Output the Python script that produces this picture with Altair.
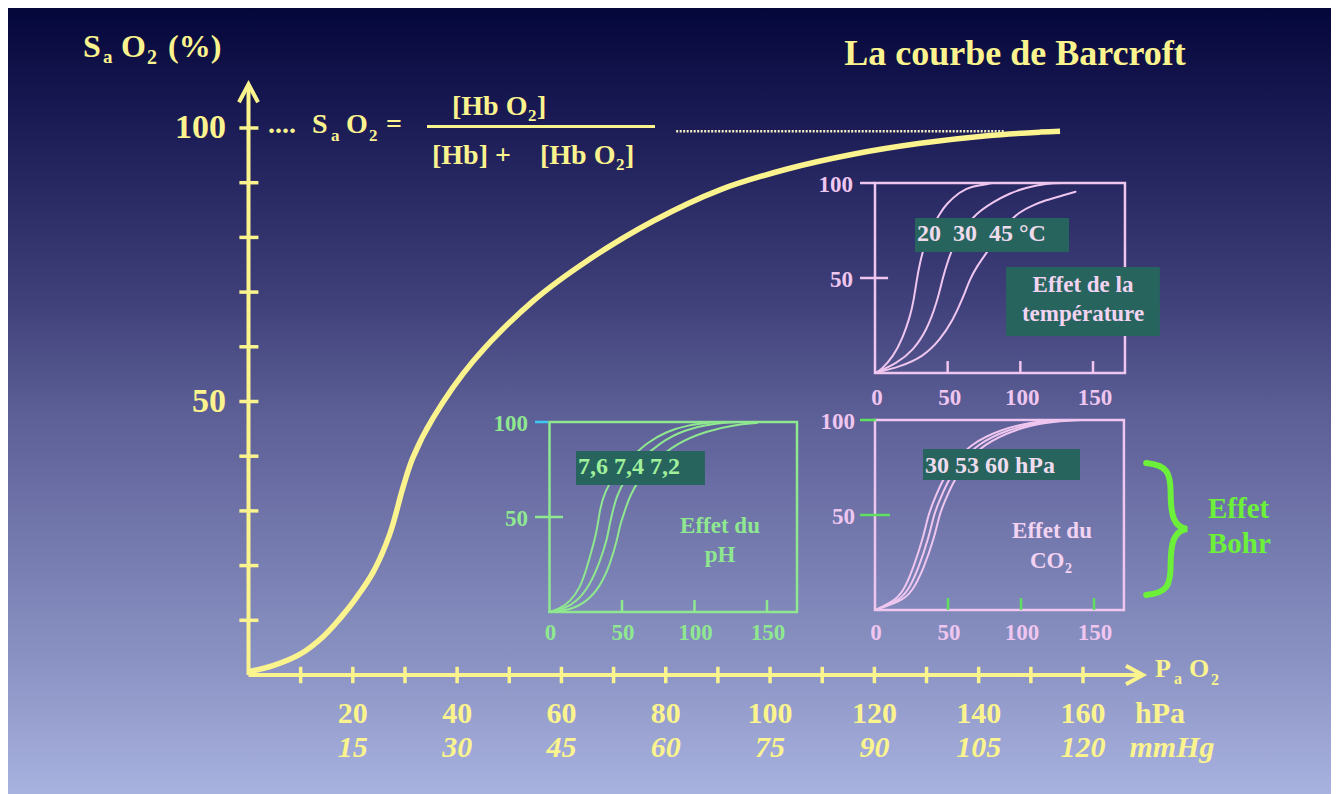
import altair as alt
import pandas as pd

# ---------------- data ----------------
# main oxygen dissociation curve: PaO2 (hPa) -> SaO2 (%)
main_x = [0, 4.7, 9.9, 14.3, 17.6, 20.8, 23.9, 27.1, 29.6, 31.5, 35.4, 43.1, 54.6,
          64.9, 77.6, 90.4, 103.3, 115.9, 128.8, 141.6, 151.8, 155.6]
main_y = [0.6, 1.7, 3.8, 7.0, 10.4, 14.3, 18.8, 25.8, 34.2, 39.7, 47.0, 57.4, 68.4,
          75.7, 83.0, 88.7, 92.5, 95.2, 97.2, 98.6, 99.25, 99.4]

x_ticks = [10, 20, 30, 40, 50, 60, 70, 80, 90, 100, 110, 120, 130, 140, 150, 160]
y_ticks = [10, 20, 30, 40, 50, 60, 70, 80, 90, 100]
hpa_labels = [20, 40, 60, 80, 100, 120, 140, 160]
mmhg_labels = [15, 30, 45, 60, 75, 90, 105, 120]
main_y_labels = [50, 100]

# inset: temperature (20, 30, 45 °C)
temp20_x = [0, 4, 12.6, 19.4, 24, 26.3, 28.7, 30.8, 34.4, 37.7, 44.7, 49, 58.5, 65, 81]
temp20_y = [0, 1.5, 8.6, 19, 29.6, 36.7, 49, 57.7, 68.3, 75, 84, 89, 95.4, 98, 100]
temp30_x = [0, 14.9, 26.4, 35.6, 42.5, 46.8, 50.4, 53.7, 60.8, 69.6, 81.4, 92.5, 104.4, 117.6, 131]
temp30_y = [0, 5, 12, 22.6, 36.7, 50.7, 59.5, 66.5, 76, 84, 90, 94.6, 97.7, 99.8, 100]
temp45_x = [0, 17.2, 33.2, 44.7, 53.7, 60.8, 65, 70, 76.5, 86, 97, 109, 117.6, 127.3, 138]
temp45_y = [0, 3.3, 8.6, 17.4, 27.9, 40, 49, 56, 63, 73.5, 84, 88.4, 91, 93, 95.4]

# inset: pH (7.6, 7.4, 7.2)
ph76_x = [0, 7.2, 14.1, 21, 25.7, 30.2, 33, 34.8, 38.3, 44, 53.2, 67.6, 80.8, 94.6, 115]
ph76_y = [0, 1.9, 5.4, 12.5, 23, 35.3, 44, 54.6, 63.3, 71.2, 79, 89.5, 94.9, 98.4, 100]
ph74_x = [0, 9.5, 18.8, 27.9, 34.8, 40, 41.3, 43, 46.3, 53.2, 62.4, 76, 92.3, 113, 131]
ph74_y = [0, 1.6, 5.4, 14.2, 26.5, 39, 45.8, 51, 61.6, 71.2, 80, 89, 95.8, 99.3, 100]
ph72_x = [0, 14.1, 25.7, 34.8, 41.7, 47, 48.6, 51, 55.5, 62.4, 71.6, 88, 108.4, 126.8, 143]
ph72_y = [0, 1, 5.4, 13.3, 24.7, 39, 45.8, 51, 61.6, 70.4, 79, 89, 95.3, 98.4, 99.5]

# inset: CO2 (30, 53, 60 hPa)
co2a_x = [0, 12.5, 19.4, 26.2, 33, 36.5, 39, 46.6, 56, 65, 85.6, 108, 126.7]
co2b_x = [0, 15, 22.5, 29.8, 36.8, 40.3, 42.8, 50.6, 60.3, 69.6, 90.5, 113, 134]
co2c_x = [0, 17.5, 25.6, 33.4, 40.6, 44.1, 46.6, 54.6, 64.6, 74.2, 95.4, 118, 142]
co2_y = [0, 4.4, 9.6, 22, 38, 50, 55, 69.5, 79, 87, 95, 99, 100]

inset_x_labels = [0, 50, 100, 150]
inset_x_ticks = [50, 100, 150]
inset_y_labels = [50, 100]

# ---------------- layout / style ----------------
W, H = 1323, 786
OFF = 8
FONT = "Liberation Serif"

YEL = "#fbf48e"
DOTS = "#f2f0c4"
PINK = "#efc6ef"
PINK_TXT = "#f2d4f2"
GREEN = "#8fe88f"
GREEN_TXT = "#a0f09c"
TICK_GREEN = "#5fe05f"
CYAN = "#3cc8f0"
BOHR = "#6cf03a"
BOX = "#27645e"


def sc(dom, rng):
    return alt.Scale(domain=dom, range=rng, nice=False, zero=False)


MAIN = (sc([0, 160], [240.5, 1075]), sc([0, 100], [667, 120]))
TEMP = (sc([0, 150], [867, 1085]), sc([0, 100], [365, 175]))
PH = (sc([0, 150], [541.5, 759]), sc([0, 100], [604, 414]))
CO2 = (sc([0, 150], [867, 1086]), sc([0, 100], [602, 412]))


def X(f, s):
    return alt.X(f"{f}:Q", scale=s[0], axis=None)


def X2(f):
    return alt.X2(f"{f}:Q")


def Y(f, s):
    return alt.Y(f"{f}:Q", scale=s[1], axis=None)


def Y2(f):
    return alt.Y2(f"{f}:Q")


def curve(xs, ys, s, color, width, interp="basis", cap="round"):
    return alt.Chart(pd.DataFrame({"x": xs, "y": ys})).mark_line(
        color=color, strokeWidth=width, interpolate=interp, strokeCap=cap
    ).encode(x=X("x", s), y=Y("y", s))


def hrule(x0, x1, y, s, color, width, dash=None):
    kw = dict(color=color, strokeWidth=width)
    if dash:
        kw["strokeDash"] = dash
    return alt.Chart(pd.DataFrame({"x": [x0], "x2": [x1], "y": [y]})).mark_rule(**kw).encode(
        x=X("x", s), x2=X2("x2"), y=Y("y", s))


def vticks(vals, y0, y1, s, color, width):
    d = pd.DataFrame({"x": vals, "y": [y0] * len(vals), "y2": [y1] * len(vals)})
    return alt.Chart(d).mark_rule(color=color, strokeWidth=width).encode(
        x=X("x", s), y=Y("y", s), y2=Y2("y2"))


def hticks(vals, x0, x1, s, color, width):
    d = pd.DataFrame({"y": vals, "x": [x0] * len(vals), "x2": [x1] * len(vals)})
    return alt.Chart(d).mark_rule(color=color, strokeWidth=width).encode(
        y=Y("y", s), x=X("x", s), x2=X2("x2"))


def box(x0, x1, y0, y1, s, fill=None, stroke=None, width=2.5):
    kw = {}
    if fill:
        kw["fill"] = fill
    else:
        kw["fillOpacity"] = 0
    if stroke:
        kw["stroke"] = stroke
        kw["strokeWidth"] = width
    else:
        kw["strokeWidth"] = 0
    d = pd.DataFrame({"x": [x0], "x2": [x1], "y": [y0], "y2": [y1]})
    return alt.Chart(d).mark_rect(**kw).encode(
        x=X("x", s), x2=X2("x2"), y=Y("y", s), y2=Y2("y2"))


def xlabels(vals, texts, s, base, size, color, italic=False, dx=0):
    d = pd.DataFrame({"x": vals, "t": texts})
    return alt.Chart(d).mark_text(
        align="center", baseline="alphabetic", font=FONT, fontSize=size, fontWeight="bold",
        fontStyle="italic" if italic else "normal", color=color, dx=dx
    ).encode(x=X("x", s), y=alt.value(base - OFF), text="t:N")


def ylabels(vals, s, right, size, color, dy):
    d = pd.DataFrame({"y": vals, "t": [str(v) for v in vals]})
    return alt.Chart(d).mark_text(
        align="right", baseline="alphabetic", font=FONT, fontSize=size, fontWeight="bold",
        color=color, dy=dy
    ).encode(y=Y("y", s), x=alt.value(right - OFF), text="t:N")


def ptext(s, x, y, size, color, align="left", italic=False):
    return alt.Chart(pd.DataFrame({"t": [s]})).mark_text(
        align=align, baseline="alphabetic", font=FONT, fontSize=size, fontWeight="bold",
        fontStyle="italic" if italic else "normal", color=color
    ).encode(x=alt.value(x - OFF), y=alt.value(y - OFF), text="t:N")


one = pd.DataFrame({"k": [0]})

# ---------------- background ----------------
grad = alt.LinearGradient(
    gradient="linear", x1=0, x2=0, y1=0, y2=1,
    stops=[
        alt.GradientStop(offset=0.0, color="#04073a"),
        alt.GradientStop(offset=0.16, color="#1d1d58"),
        alt.GradientStop(offset=0.37, color="#3f4079"),
        alt.GradientStop(offset=0.52, color="#5d5f97"),
        alt.GradientStop(offset=0.83, color="#8a92c3"),
        alt.GradientStop(offset=1.0, color="#a8b2df"),
    ],
)
bg = alt.Chart(one).mark_rect(fill=grad, strokeWidth=0).encode(
    x=alt.value(0), x2=alt.value(W), y=alt.value(0), y2=alt.value(H))

# ---------------- main chart ----------------
arrow_x = alt.Chart(pd.DataFrame({"x": [171.5], "y": [0]})).mark_point(
    shape="M -1 -0.55 L 0 0 L -1 0.55", filled=False, color=YEL, strokeWidth=4,
    opacity=1, size=1156).encode(x=X("x", MAIN), y=Y("y", MAIN))
arrow_y = alt.Chart(pd.DataFrame({"x": [0], "y": [108]})).mark_point(
    shape="M -0.53 1 L 0 0 L 0.53 1", filled=False, color=YEL, strokeWidth=4,
    opacity=1, size=1296).encode(x=X("x", MAIN), y=Y("y", MAIN))
y_axis = alt.Chart(pd.DataFrame({"x": [0], "y": [0], "y2": [108]})).mark_rule(
    color=YEL, strokeWidth=4).encode(x=X("x", MAIN), y=Y("y", MAIN), y2=Y2("y2"))

main = alt.layer(
    hrule(82, 145, 99.4, MAIN, DOTS, 2.5, dash=[2, 1.5]),
    hrule(0, 171.5, 0, MAIN, YEL, 4),
    y_axis,
    vticks(x_ticks, -1.5, 1.5, MAIN, YEL, 3.5),
    hticks(y_ticks, -1.75, 1.9, MAIN, YEL, 3.5),
    arrow_x,
    arrow_y,
    curve(main_x, main_y, MAIN, YEL, 5.5, interp="catmull-rom", cap="butt"),
    ylabels(main_y_labels, MAIN, 226, 34, YEL, 10),
    xlabels(hpa_labels, [str(v) for v in hpa_labels], MAIN, 723, 30, YEL),
    xlabels(hpa_labels, [str(v) for v in mmhg_labels], MAIN, 757, 30, YEL, italic=True),
)

# ---------------- temperature inset ----------------
temp = alt.layer(
    box(0, 172, 0, 100, TEMP, stroke=PINK),
    hrule(-10.3, 0, 100, TEMP, PINK, 2.5),
    hticks([50], -10.3, 9, TEMP, PINK, 2.5),
    vticks(inset_x_ticks, 0, 6.3, TEMP, PINK, 2.5),
    curve(temp20_x, temp20_y, TEMP, PINK, 2),
    curve(temp30_x, temp30_y, TEMP, PINK, 2),
    curve(temp45_x, temp45_y, TEMP, PINK, 2),
    box(27.5, 133.5, 63.7, 81.6, TEMP, fill=BOX),
    box(90.2, 196, 19.5, 55.8, TEMP, fill=BOX),
    xlabels(inset_x_labels, [str(v) for v in inset_x_labels], TEMP, 405, 23, PINK, dx=2),
    ylabels(inset_y_labels, TEMP, 853, 23, PINK, 9),
)

# ---------------- pH inset ----------------
ph = alt.layer(
    box(0, 170.7, 0, 100, PH, stroke=GREEN),
    hrule(-10, -1, 100, PH, CYAN, 2.5),
    hticks([50], -10, 9.3, PH, GREEN, 2.5),
    vticks(inset_x_ticks, 0, 6.3, PH, GREEN, 2.5),
    curve(ph76_x, ph76_y, PH, GREEN, 2),
    curve(ph74_x, ph74_y, PH, GREEN, 2),
    curve(ph72_x, ph72_y, PH, GREEN, 2),
    box(18.3, 107.2, 66.8, 84.7, PH, fill=BOX),
    xlabels(inset_x_labels, [str(v) for v in inset_x_labels], PH, 640, 23, GREEN, dx=1),
    ylabels(inset_y_labels, PH, 528, 23, GREEN, 9),
)

# ---------------- CO2 inset ----------------
co2 = alt.layer(
    box(0, 170.5, 0, 100, CO2, stroke=PINK),
    hrule(-10.3, 0.7, 100, CO2, TICK_GREEN, 2.5),
    hticks([50], -10.3, 10.3, CO2, TICK_GREEN, 2.5),
    vticks(inset_x_ticks, 0, 6.3, CO2, TICK_GREEN, 2.5),
    curve(co2a_x, co2_y, CO2, PINK, 2),
    curve(co2b_x, co2_y, CO2, PINK, 2),
    curve(co2c_x, co2_y, CO2, PINK, 2),
    box(32.9, 140.4, 68.4, 84.7, CO2, fill=BOX),
    xlabels(inset_x_labels, [str(v) for v in inset_x_labels], CO2, 640, 23, PINK, dx=1),
    ylabels(inset_y_labels, CO2, 855, 23, PINK, 9),
)

# ---------------- annotations ----------------
BRACE = ("M -0.30 -1 C 0.02 -0.97 0.07 -0.85 0.07 -0.55 "
         "C 0.07 -0.20 0.12 -0.03 0.32 0 "
         "C 0.12 0.03 0.07 0.20 0.07 0.55 "
         "C 0.07 0.85 0.02 0.97 -0.30 1")
brace = alt.Chart(one).mark_point(
    shape=BRACE, filled=False, color=BOHR, opacity=1, size=17424, strokeWidth=6,
    strokeCap="round", strokeJoin="miter"
).encode(x=alt.value(1166 - OFF), y=alt.value(529 - OFF))

frac_bar = alt.Chart(one).mark_rule(color=YEL, strokeWidth=3).encode(
    x=alt.value(427 - OFF), x2=alt.value(655 - OFF), y=alt.value(126.5 - OFF))

NB = "\u00a0"
annots = [
    # axis title
    ptext("S", 83, 57, 32, YEL),
    ptext("a", 103, 63, 19, YEL),
    ptext("O", 121, 57, 32, YEL),
    ptext("2", 147, 64, 20, YEL),
    ptext("(%)", 168, 57, 32, YEL),
    # title
    ptext("La courbe de Barcroft", 1015, 65, 36, YEL, align="center"),
    # formula
    ptext("....", 268, 133, 28, YEL),
    ptext("S", 312, 133, 28, YEL),
    ptext("a", 331, 141, 17, YEL),
    ptext("O", 346, 133, 28, YEL),
    ptext("2", 369, 141, 17, YEL),
    ptext("=", 386, 133, 28, YEL),
    ptext("[Hb O", 452, 115, 28, YEL),
    ptext("2", 528, 121, 17, YEL),
    ptext("]", 537, 115, 28, YEL),
    ptext("[Hb] +", 432, 164, 28, YEL),
    ptext("[Hb O", 540, 164, 28, YEL),
    ptext("2", 616, 170, 17, YEL),
    ptext("]", 625, 164, 28, YEL),
    frac_bar,
    # x axis title and units
    ptext("P", 1155, 677, 26, YEL),
    ptext("a", 1174, 684, 16, YEL),
    ptext("O", 1189, 677, 26, YEL),
    ptext("2", 1211, 685, 16, YEL),
    ptext("hPa", 1160, 723, 30, YEL, align="center"),
    ptext("mmHg", 1172, 757, 30, YEL, align="center", italic=True),
    # temperature inset texts
    ptext("20" + NB + " 30" + NB + " 45 °C", 917, 241, 24, "#eedcee"),
    ptext("Effet de la", 1083, 292, 23, PINK_TXT, align="center"),
    ptext("température", 1083, 321, 23, PINK_TXT, align="center"),
    # pH inset texts
    ptext("7,6 7,4 7,2", 578, 474, 24, GREEN_TXT),
    ptext("Effet du", 720, 533, 23, GREEN, align="center"),
    ptext("pH", 720, 562, 23, GREEN, align="center"),
    # CO2 inset texts
    ptext("30 53 60 hPa", 925, 473, 24, "#eedcee"),
    ptext("Effet du", 1052, 538, 23, PINK_TXT, align="center"),
    ptext("CO", 1030, 568, 23, PINK_TXT),
    ptext("2", 1065, 573, 14, PINK_TXT),
    # Bohr effect
    brace,
    ptext("Effet", 1208, 518, 29, BOHR),
    ptext("Bohr", 1208, 553, 29, BOHR),
]

chart = alt.layer(bg, main, temp, ph, co2, *annots).resolve_scale(
    x="independent", y="independent"
).properties(
    width=W, height=H, padding=0, autosize=alt.AutoSizeParams(type="none")
).configure_view(strokeWidth=0)

chart.save("out.html", embed_options={"renderer": "svg", "actions": False})
